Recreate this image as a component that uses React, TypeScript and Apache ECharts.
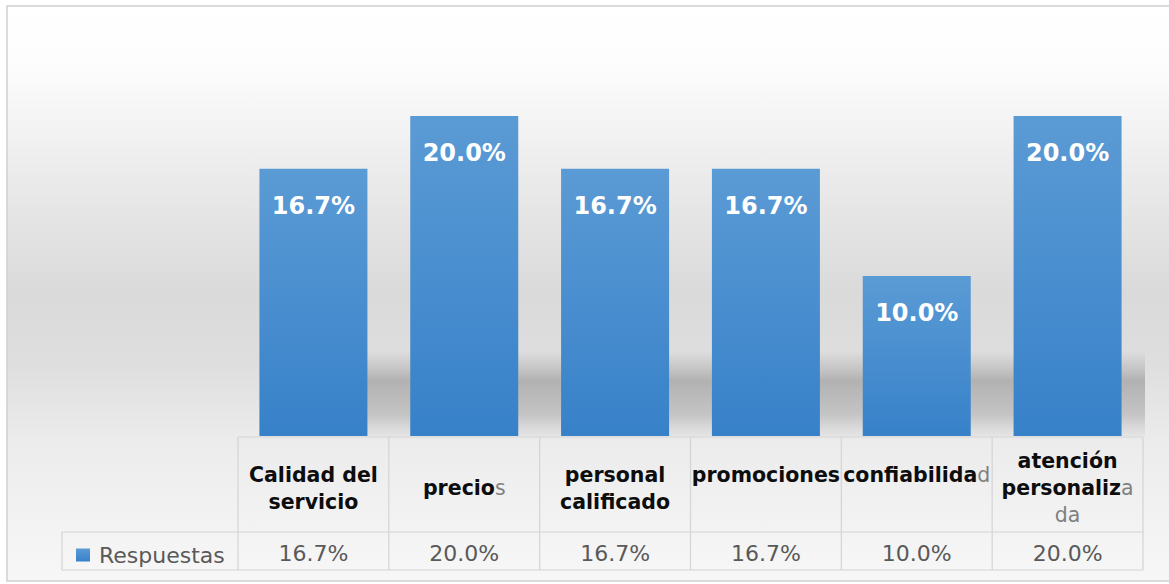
import React, { useEffect, useRef } from "react";
import * as echarts from "echarts";

const categories = [
  "Calidad del servicio",
  "precios",
  "personal calificado",
  "promociones",
  "confiabilidad",
  "atención personalizada",
];
const seriesName = "Respuestas";
const values = [16.7, 20.0, 16.7, 16.7, 10.0, 20.0];
const axisMin = 0;
const axisMax = 25;

// how each category label is written in the table header (bold / plain pieces)
const headerLabels = [
  "{b|Calidad del}\n{b|servicio}",
  "{b|precio}{n|s}",
  "{b|personal}\n{b|calificado}",
  "{b|promociones}\n{n| }",
  "{b|confiabilida}{n|d}\n{n| }",
  "{b|atención}\n{b|personaliz}{n|a}\n{n|da}",
];

const W = 1169;
const H = 584;
const FONT = "DejaVu Sans";
const GRID_L = 238;
const GRID_R = 1143;
const GRID_T = 36;
const GRID_B = 436;
const ROW_SPLIT = 532;
const TABLE_B = 570;
const LEGEND_L = 62;

const fmt = (v: number) => v.toFixed(1) + "%";

export default function App() {
  const ref = useRef<HTMLDivElement>(null);
  useEffect(() => {
    if (!ref.current) return;
    const chart = echarts.init(ref.current, undefined, { renderer: "svg" });
    const lineStyle = { stroke: "#d4d4d4", lineWidth: 1.2 };
    const colW = (GRID_R - GRID_L) / categories.length;
    const lines: any[] = [];
    for (let i = 0; i <= categories.length; i++) {
      const x = GRID_L + i * colW;
      lines.push({
        type: "line",
        z: 5,
        shape: { x1: x, y1: GRID_B + 1, x2: x, y2: TABLE_B },
        style: lineStyle,
      });
    }
    lines.push({ type: "line", z: 5, shape: { x1: GRID_L, y1: GRID_B + 1, x2: GRID_R, y2: GRID_B + 1 }, style: lineStyle });
    lines.push({ type: "line", z: 5, shape: { x1: LEGEND_L, y1: ROW_SPLIT, x2: GRID_R, y2: ROW_SPLIT }, style: lineStyle });
    lines.push({ type: "line", z: 5, shape: { x1: LEGEND_L, y1: TABLE_B, x2: GRID_R, y2: TABLE_B }, style: lineStyle });
    lines.push({ type: "line", z: 5, shape: { x1: LEGEND_L, y1: ROW_SPLIT, x2: LEGEND_L, y2: TABLE_B }, style: lineStyle });

    chart.setOption({
      animation: false,
      graphic: [
        {
          type: "rect",
          z: -10,
          silent: true,
          shape: { x: 7, y: 6, width: W, height: H - 9 },
          style: {
            stroke: "#d0d0d0",
            lineWidth: 1.5,
            fill: new echarts.graphic.LinearGradient(0, 0, 0, 1, [
              { offset: 0, color: "#ffffff" },
              { offset: 0.1, color: "#fdfdfd" },
              { offset: 0.35, color: "#e6e6e6" },
              { offset: 0.5, color: "#dadada" },
              { offset: 0.62, color: "#dedede" },
              { offset: 0.76, color: "#ececec" },
              { offset: 1, color: "#f7f7f7" },
            ]),
          },
        },
        ...lines,
      ],
      legend: {
        data: [seriesName],
        left: 71,
        top: 539,
        icon: "rect",
        itemWidth: 14,
        itemHeight: 13,
        textStyle: { fontFamily: FONT, fontSize: 22, color: "#595959", padding: [4, 0, 0, 4] },
      },
      grid: {
        left: GRID_L,
        right: W - GRID_R,
        top: GRID_T,
        bottom: H - GRID_B,
      },
      xAxis: [
        {
          type: "category",
          data: categories,
          axisLine: { show: false },
          axisTick: { show: false },
          axisLabel: {
            interval: 0,
            margin: 52,
            verticalAlign: "middle",
            formatter: (_v: string, i: number) => headerLabels[i],
            rich: {
              b: { fontFamily: FONT, fontSize: 20.5, fontWeight: "bold", color: "#0d0d0d", lineHeight: 27 },
              n: { fontFamily: FONT, fontSize: 20.5, color: "#808080", lineHeight: 27 },
            },
          },
        },
        {
          type: "category",
          data: categories,
          position: "bottom",
          offset: ROW_SPLIT - GRID_B,
          axisLine: { show: false },
          axisTick: { show: false },
          axisLabel: {
            interval: 0,
            margin: 21,
            verticalAlign: "middle",
            fontFamily: FONT,
            fontSize: 22,
            color: "#595959",
            formatter: (_v: string, i: number) => fmt(values[i]),
          },
        },
      ],
      yAxis: { type: "value", min: axisMin, max: axisMax, show: false },
      series: [
        {
          type: "custom",
          silent: true,
          z: 1,
          xAxisIndex: 0,
          data: values.map((v, i) => [i, v]),
          renderItem: (p: any, api: any) => {
            const base = api.coord([api.value(0), 0]);
            const right = p.coordSys.x + p.coordSys.width + 2;
            const x0 = base[0] + 30;
            const w = Math.min(70, right - x0);
            return {
              type: "rect",
              shape: { x: x0, y: base[1] - 85, width: w, height: 85 },
              style: {
                fill: new echarts.graphic.LinearGradient(0, 0, 0, 1, [
                  { offset: 0, color: "rgba(120,120,120,0)" },
                  { offset: 0.35, color: "rgba(100,100,100,0.38)" },
                  { offset: 0.75, color: "rgba(115,115,115,0.3)" },
                  { offset: 1, color: "rgba(150,150,150,0.08)" },
                ]),
              },
            };
          },
        },
        {
          name: seriesName,
          type: "bar",
          z: 3,
          xAxisIndex: 0,
          data: values,
          barWidth: 108,
          itemStyle: {
            color: new echarts.graphic.LinearGradient(0, 0, 0, 1, [
              { offset: 0, color: "#5b9bd5" },
              { offset: 1, color: "#3781c9" },
            ]),
          },
          label: {
            show: true,
            position: "insideTop",
            distance: 25,
            formatter: (p: any) => fmt(p.value),
            fontFamily: FONT,
            fontSize: 24,
            fontWeight: "bold",
            color: "#ffffff",
          },
        },
      ],
    });
    return () => chart.dispose();
  }, []);
  return (
    <div
      ref={ref}
      style={{ position: "absolute", left: 0, top: 0, width: W, height: H }}
    />
  );
}
